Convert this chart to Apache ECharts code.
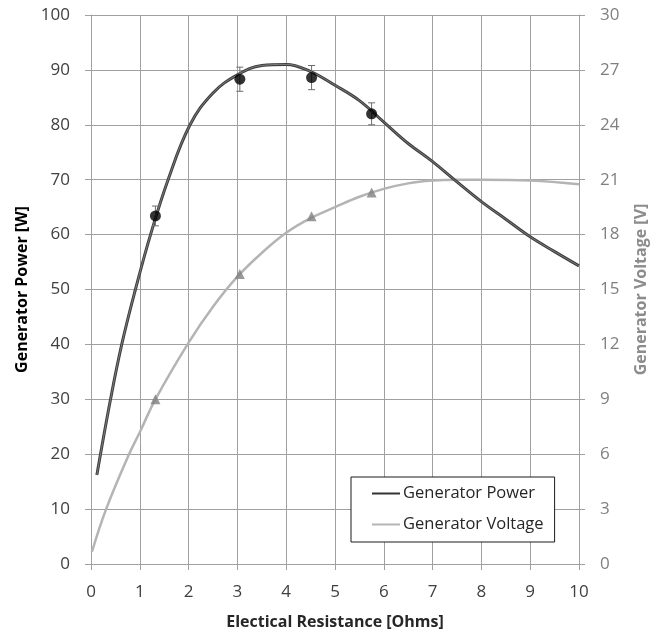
<!DOCTYPE html>
<html>
<head>
<meta charset="utf-8">
<script src="https://cdn.jsdelivr.net/npm/echarts@6/dist/echarts.min.js"></script>
<style>
  html, body { margin: 0; padding: 0; background: #fff; }
  #chart { width: 662px; height: 637px; }
</style>
</head>
<body>
<div id="chart"></div>
<script>
// Fitted generator power curve (W) vs. load resistance (Ohms)
const powerCurveX = [0.12, 0.40, 0.63, 0.91, 1.22, 1.58, 2.03, 2.5, 3.0, 3.5, 4.0, 4.5, 5.0, 5.5, 6.0, 6.5, 7.0, 7.5, 8.0, 8.5, 9.0, 9.5, 10.0];
const powerCurveY = [16.2, 30, 40, 50, 60, 70, 80, 85.8, 89.1, 90.8, 91.0, 89.7, 87.2, 84.4, 80.5, 76.6, 73.3, 69.6, 66, 62.8, 59.6, 56.9, 54.3];

// Fitted generator voltage curve (V)
const voltageCurveX = [0.02, 0.31, 0.78, 1.0, 1.32, 2.0, 2.5, 3.0, 3.5, 4.0, 4.5, 5.0, 5.5, 6.0, 6.5, 7.0, 7.5, 8.0, 9.0, 10.0];
const voltageCurveY = [0.67, 3.0, 6.0, 7.2, 9.0, 12.1, 14.06, 15.7, 17.0, 18.1, 18.9, 19.5, 20.07, 20.5, 20.8, 20.95, 21.0, 21.0, 20.95, 20.75];

// Measured points
const measuredX = [1.32, 3.05, 4.52, 5.75];
const measuredPower = [63.4, 88.3, 88.6, 82.0];
const powerError = [1.8, 2.2, 2.2, 2.0];
const measuredVoltage = [9.0, 15.85, 19.0, 20.3];

// Axis ticks
const xTicks = [0, 1, 2, 3, 4, 5, 6, 7, 8, 9, 10];
const powerTicks = [0, 10, 20, 30, 40, 50, 60, 70, 80, 90, 100];
const voltageTicks = [0, 3, 6, 9, 12, 15, 18, 21, 24, 27, 30];

const FONT = '"Open Sans", "Liberation Sans", sans-serif';
const GRID_COLOR = '#a0a0a0';

const zip = (xs, ys) => xs.map((x, i) => [x, ys[i]]);

const chart = echarts.init(document.getElementById('chart'), null, { renderer: 'canvas' });

const option = {
  backgroundColor: '#ffffff',
  animation: false,
  grid: { left: 91, right: 83, top: 15, bottom: 73, containLabel: false },
  legend: {
    orient: 'vertical',
    left: 351,
    top: 477,
    data: [
      { name: 'Generator Power', icon: 'rect', itemStyle: { color: '#333333' } },
      { name: 'Generator Voltage', icon: 'rect', itemStyle: { color: '#b4b4b4' } }
    ],
    itemWidth: 28,
    itemHeight: 2,
    itemGap: 14,
    padding: [8, 11, 9, 21],
    borderColor: '#1a1a1a',
    borderWidth: 1,
    backgroundColor: '#ffffff',
    textStyle: { fontFamily: FONT, fontSize: 16.5, color: '#262626', padding: [0, 0, 0, -2] }
  },
  xAxis: {
    type: 'value',
    min: xTicks[0],
    max: xTicks[xTicks.length - 1],
    interval: 1,
    name: 'Electical Resistance [Ohms]',
    nameLocation: 'middle',
    nameGap: 50,
    nameTextStyle: { fontFamily: FONT, fontSize: 16, fontWeight: 'bold', color: '#262626' },
    axisLine: { show: true, lineStyle: { color: GRID_COLOR, width: 1 } },
    axisTick: { show: true, length: 6, lineStyle: { color: GRID_COLOR } },
    axisLabel: { fontFamily: FONT, fontSize: 17, color: '#404040', margin: 20 },
    splitLine: { show: true, lineStyle: { color: GRID_COLOR, width: 1 } }
  },
  yAxis: [
    {
      type: 'value',
      min: powerTicks[0],
      max: powerTicks[powerTicks.length - 1],
      interval: 10,
      position: 'left',
      name: 'Generator Power [W]',
      nameLocation: 'middle',
      nameGap: 51,
      nameTextStyle: { fontFamily: FONT, fontSize: 16, fontWeight: 'bold', color: '#000000' },
      axisLine: { show: true, lineStyle: { color: GRID_COLOR, width: 1 } },
      axisTick: { show: true, length: 6, lineStyle: { color: GRID_COLOR } },
      axisLabel: { fontFamily: FONT, fontSize: 17, color: '#404040', margin: 21 },
      splitLine: { show: true, lineStyle: { color: GRID_COLOR, width: 1 } }
    },
    {
      type: 'value',
      min: voltageTicks[0],
      max: voltageTicks[voltageTicks.length - 1],
      interval: 3,
      position: 'right',
      name: 'Generator Voltage [V]',
      nameLocation: 'middle',
      nameGap: 54,
      nameTextStyle: { fontFamily: FONT, fontSize: 16, fontWeight: 'bold', color: '#8c8c8c' },
      axisLine: { show: true, lineStyle: { color: GRID_COLOR, width: 1 } },
      axisTick: { show: true, length: 6, lineStyle: { color: GRID_COLOR } },
      axisLabel: { fontFamily: FONT, fontSize: 17, color: '#808080', margin: 21 },
      splitLine: { show: false }
    }
  ],
  series: [
    {
      name: 'Generator Voltage',
      type: 'line',
      yAxisIndex: 1,
      data: zip(voltageCurveX, voltageCurveY),
      smooth: 0.4,
      showSymbol: false,
      symbol: 'none',
      lineStyle: { color: '#b4b4b4', width: 2.5 },
      itemStyle: { color: '#b4b4b4' },
      z: 2
    },
    {
      name: 'Generator Power',
      type: 'line',
      yAxisIndex: 0,
      data: zip(powerCurveX, powerCurveY),
      smooth: 0.4,
      showSymbol: false,
      symbol: 'none',
      lineStyle: { color: '#3f3f3f', width: 3 },
      itemStyle: { color: '#333333' },
      z: 3
    },
    {
      // light core of the power line
      name: 'power-core',
      type: 'line',
      yAxisIndex: 0,
      data: zip(powerCurveX, powerCurveY),
      smooth: 0.4,
      showSymbol: false,
      symbol: 'none',
      lineStyle: { color: '#8a8a8a', width: 0.8 },
      silent: true,
      z: 4
    },
    {
      name: 'power-error',
      type: 'custom',
      yAxisIndex: 0,
      data: measuredX.map((x, i) => [x, measuredPower[i], powerError[i]]),
      renderItem: function (params, api) {
        const x = api.value(0), y = api.value(1), e = api.value(2);
        const top = api.coord([x, y + e]);
        const bot = api.coord([x, y - e]);
        const cap = 3.5;
        const style = { stroke: '#6e6e6e', lineWidth: 1 };
        return {
          type: 'group',
          children: [
            { type: 'line', shape: { x1: top[0], y1: top[1], x2: bot[0], y2: bot[1] }, style: style },
            { type: 'line', shape: { x1: top[0] - cap, y1: top[1], x2: top[0] + cap, y2: top[1] }, style: style },
            { type: 'line', shape: { x1: bot[0] - cap, y1: bot[1], x2: bot[0] + cap, y2: bot[1] }, style: style }
          ]
        };
      },
      silent: true,
      z: 5
    },
    {
      name: 'power-measured',
      type: 'scatter',
      yAxisIndex: 0,
      data: zip(measuredX, measuredPower),
      symbol: 'circle',
      symbolSize: 11,
      itemStyle: { color: '#000000' },
      z: 6
    },
    {
      name: 'voltage-measured',
      type: 'scatter',
      yAxisIndex: 1,
      data: zip(measuredX, measuredVoltage),
      symbol: 'triangle',
      symbolSize: 10,
      itemStyle: { color: '#808080' },
      z: 6
    }
  ]
};

chart.setOption(option);
</script>
</body>
</html>
